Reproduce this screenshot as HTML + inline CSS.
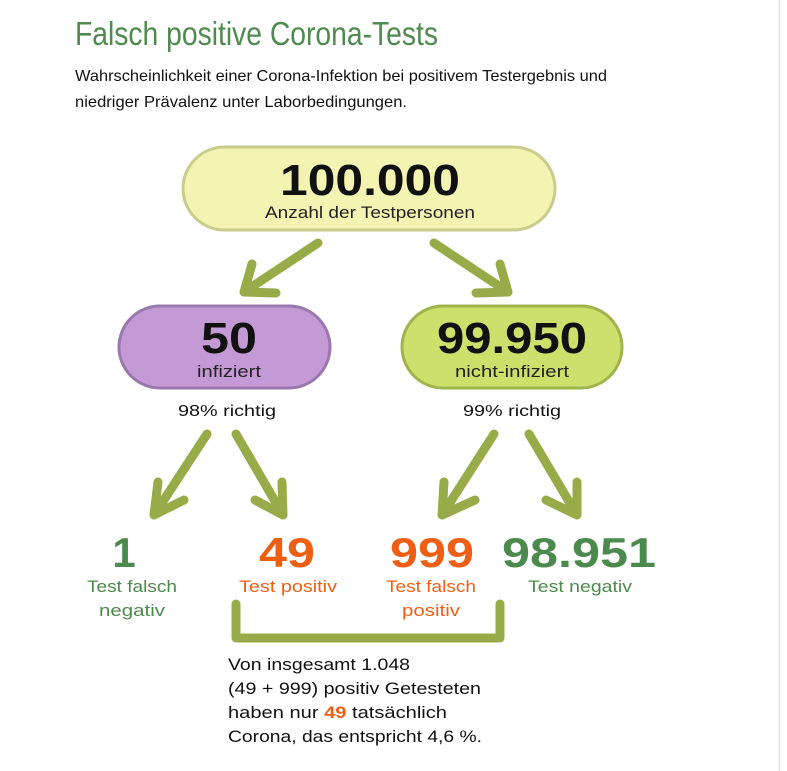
<!DOCTYPE html>
<html><head><meta charset="utf-8"><style>
html,body{margin:0;padding:0;background:#fff;}
svg{display:block;}
text{font-family:"Liberation Sans",sans-serif;}
</style></head><body>
<svg width="787" height="771" viewBox="0 0 787 771" xmlns="http://www.w3.org/2000/svg">
<line x1="779.5" y1="0" x2="779.5" y2="771" stroke="#e2e2e2" stroke-width="1.5"/>
<text x="75" y="45" font-size="33" fill="#4f8a4e" textLength="363" lengthAdjust="spacingAndGlyphs">Falsch positive Corona-Tests</text>
<text x="75" y="81" font-size="16" fill="#111" textLength="532" lengthAdjust="spacingAndGlyphs">Wahrscheinlichkeit einer Corona-Infektion bei positivem Testergebnis und</text>
<text x="75" y="107" font-size="16" fill="#111" textLength="332" lengthAdjust="spacingAndGlyphs">niedriger Prävalenz unter Laborbedingungen.</text>

<rect x="183" y="147" width="372" height="83" rx="41.5" fill="#f4f4b2" stroke="#c9cc8a" stroke-width="3"/>
<text x="370" y="195" font-size="44" font-weight="bold" fill="#111" text-anchor="middle" textLength="180" lengthAdjust="spacingAndGlyphs">100.000</text>
<text x="370" y="218" font-size="17" fill="#222" text-anchor="middle" textLength="210" lengthAdjust="spacingAndGlyphs">Anzahl der Testpersonen</text>

<rect x="119" y="306" width="211" height="82" rx="41" fill="#c39ad6" stroke="#9a78ad" stroke-width="3"/>
<text x="229" y="353" font-size="44" font-weight="bold" fill="#111" text-anchor="middle" textLength="56" lengthAdjust="spacingAndGlyphs">50</text>
<text x="229" y="377" font-size="17" fill="#222" text-anchor="middle" textLength="64" lengthAdjust="spacingAndGlyphs">infiziert</text>

<rect x="402" y="306" width="220" height="82" rx="41" fill="#cde06c" stroke="#a0b44c" stroke-width="3"/>
<text x="512" y="353" font-size="44" font-weight="bold" fill="#111" text-anchor="middle" textLength="150" lengthAdjust="spacingAndGlyphs">99.950</text>
<text x="512" y="377" font-size="17" fill="#222" text-anchor="middle" textLength="114" lengthAdjust="spacingAndGlyphs">nicht-infiziert</text>

<text x="227" y="416" font-size="16" fill="#111" text-anchor="middle" textLength="98" lengthAdjust="spacingAndGlyphs">98% richtig</text>
<text x="512" y="416" font-size="16" fill="#111" text-anchor="middle" textLength="98" lengthAdjust="spacingAndGlyphs">99% richtig</text>

<g stroke="#99ab48" stroke-width="9" stroke-linecap="round" stroke-linejoin="round" fill="none">
<path d="M318 243 L244 292 M252 264 L244 292 L276 293"/>
<path d="M434 243 L508 292 M500 264 L508 292 L476 293"/>
<path d="M207 434 L154 515 M158 482 L154 515 L184 500"/>
<path d="M236 434 L283 515 M282 482 L283 515 L255 500"/>
<path d="M494 434 L442 515 M444 482 L442 515 L475 500"/>
<path d="M529 434 L577 515 M577 482 L577 515 L546 500"/>
<path d="M236 604 L236 638 L500 638 L500 604"/>
</g>

<text x="124" y="567" font-size="42" font-weight="bold" fill="#4b8a4c" text-anchor="middle">1</text>
<text x="287" y="567" font-size="42" font-weight="bold" fill="#ee5f14" text-anchor="middle" textLength="56" lengthAdjust="spacingAndGlyphs">49</text>
<text x="432" y="567" font-size="42" font-weight="bold" fill="#ee5f14" text-anchor="middle" textLength="84" lengthAdjust="spacingAndGlyphs">999</text>
<text x="579" y="567" font-size="42" font-weight="bold" fill="#4b8a4c" text-anchor="middle" textLength="154" lengthAdjust="spacingAndGlyphs">98.951</text>

<text x="132" y="592" font-size="17" fill="#4b8a4c" text-anchor="middle" textLength="90" lengthAdjust="spacingAndGlyphs">Test falsch</text>
<text x="132" y="616" font-size="17" fill="#4b8a4c" text-anchor="middle" textLength="66" lengthAdjust="spacingAndGlyphs">negativ</text>
<text x="288" y="592" font-size="17" fill="#ee5f14" text-anchor="middle" textLength="98" lengthAdjust="spacingAndGlyphs">Test positiv</text>
<text x="431" y="592" font-size="17" fill="#ee5f14" text-anchor="middle" textLength="90" lengthAdjust="spacingAndGlyphs">Test falsch</text>
<text x="431" y="616" font-size="17" fill="#ee5f14" text-anchor="middle" textLength="58" lengthAdjust="spacingAndGlyphs">positiv</text>
<text x="580" y="592" font-size="17" fill="#4b8a4c" text-anchor="middle" textLength="104" lengthAdjust="spacingAndGlyphs">Test negativ</text>

<g font-size="17" fill="#111">
<text x="228" y="670" textLength="182" lengthAdjust="spacingAndGlyphs">Von insgesamt 1.048</text>
<text x="228" y="694" textLength="253" lengthAdjust="spacingAndGlyphs">(49 + 999) positiv Getesteten</text>
<text x="228" y="718" textLength="219" lengthAdjust="spacingAndGlyphs">haben nur <tspan fill="#ee5f14" font-weight="bold">49</tspan> tatsächlich</text>
<text x="228" y="742" textLength="254" lengthAdjust="spacingAndGlyphs">Corona, das entspricht 4,6 %.</text>
</g>
</svg>
</body></html>
